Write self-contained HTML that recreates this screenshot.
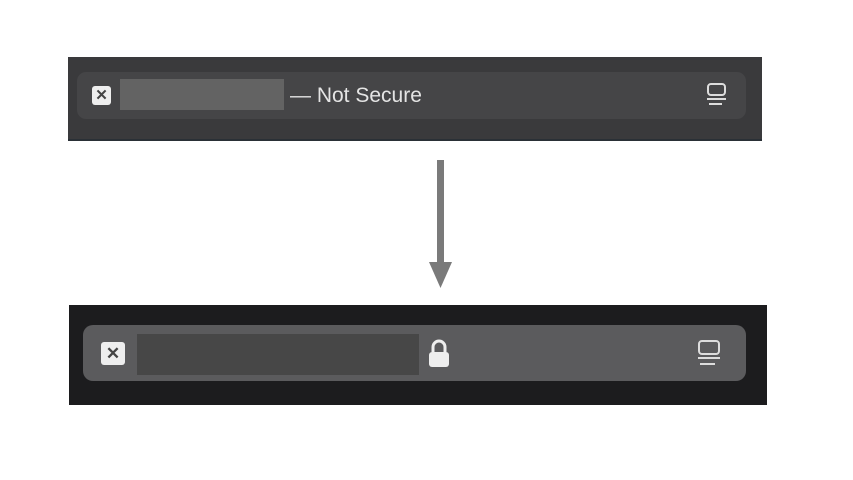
<!DOCTYPE html>
<html><head><meta charset="utf-8"><style>
body{margin:0;width:853px;height:480px;background:#fff;position:relative;overflow:hidden;font-family:"Liberation Sans",sans-serif}
div{position:absolute;box-sizing:border-box}
.x{background:#eee;border-radius:3px;color:#444;font-weight:bold;text-align:center}
</style></head><body>
<div style="left:68px;top:57px;width:694px;height:84px;background:#3a3a3c;border-bottom:2px solid #2a3036"></div>
<div style="left:77px;top:72px;width:669px;height:47px;background:#454547;border-radius:9px"></div>
<div class="x" style="left:92px;top:86px;width:19px;height:19px;font-size:15px;line-height:19px">✕</div>
<div style="left:120px;top:79px;width:164px;height:31px;background:#636363"></div>
<div style="left:290px;top:83px;font-size:21px;color:#e4e4e4;line-height:26px">— Not Secure</div>
<svg style="position:absolute;left:700px;top:82px" width="30" height="30"><rect x="8" y="2" width="17" height="11" rx="3" fill="none" stroke="#ddd" stroke-width="2"/><rect x="7" y="16" width="19" height="2" fill="#ddd"/><rect x="9" y="21" width="13" height="2" fill="#ddd"/></svg>

<svg style="position:absolute;left:420px;top:155px" width="45" height="140"><rect x="17" y="5" width="7" height="104" fill="#7a7a7a"/><polygon points="9,107 32,107 20.5,133" fill="#7a7a7a"/></svg>

<div style="left:69px;top:305px;width:698px;height:100px;background:#1c1c1e"></div>
<div style="left:83px;top:325px;width:663px;height:56px;background:#5b5b5d;border-radius:10px"></div>
<div class="x" style="left:101px;top:342px;width:24px;height:23px;font-size:17px;line-height:23px">✕</div>
<div style="left:137px;top:334px;width:282px;height:41px;background:#474747"></div>
<svg style="position:absolute;left:428px;top:338px" width="22" height="32"><path d="M5 14 V9 a6 6 0 0 1 12 0 V14" fill="none" stroke="#eee" stroke-width="3"/><rect x="1" y="14" width="20" height="15" rx="3" fill="#eee"/></svg>
<svg style="position:absolute;left:694px;top:338px" width="32" height="32"><rect x="5" y="3" width="20" height="13" rx="3" fill="none" stroke="#ddd" stroke-width="2"/><rect x="4" y="19" width="22" height="2" fill="#ddd"/><rect x="6" y="25" width="15" height="2" fill="#ddd"/></svg>
</body></html>
